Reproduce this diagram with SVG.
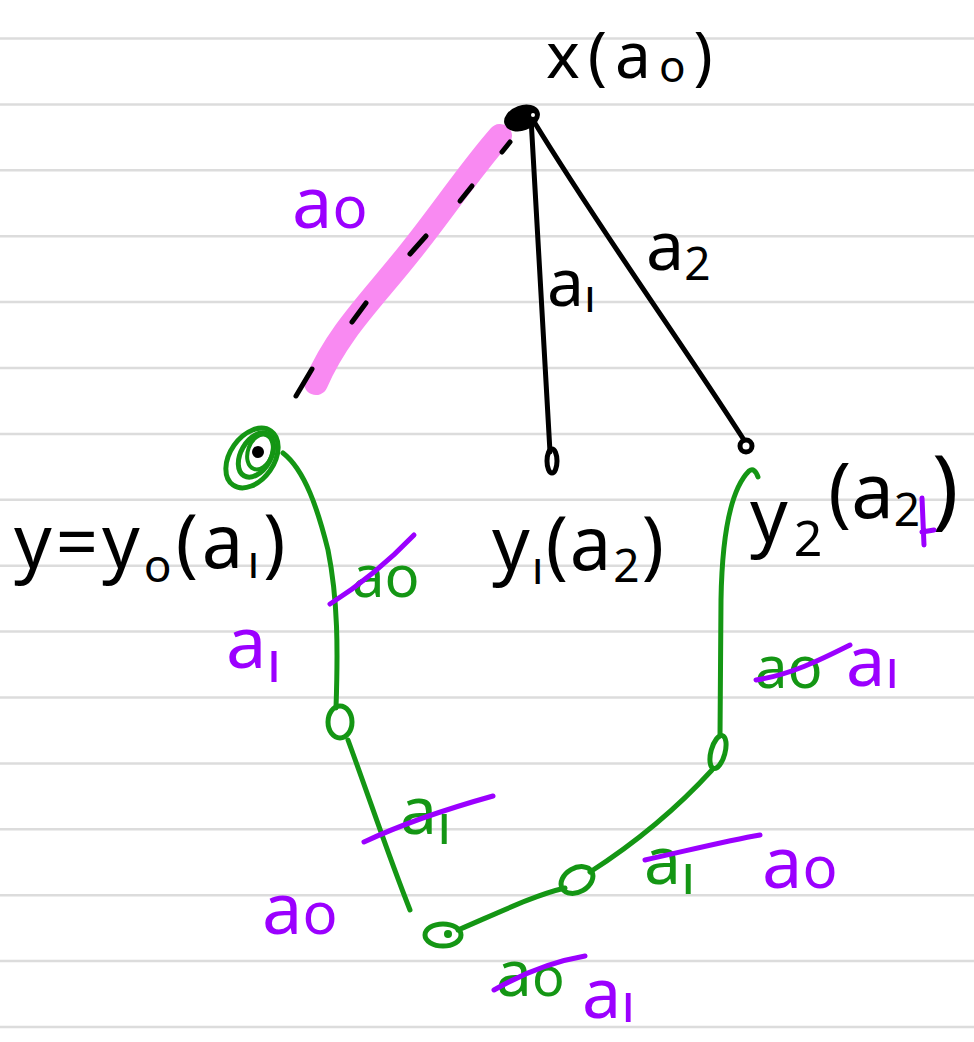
<svg xmlns="http://www.w3.org/2000/svg" width="974" height="1042" viewBox="0 0 974 1042">
<style>
.rule{stroke:#dcdcdc;stroke-width:2.5}
.t{font-family:"Noto Sans",sans-serif;fill:#000}
.p{fill:#9b00ff}
.g{fill:#149614}
.blk{fill:none;stroke:#000;stroke-width:5;stroke-linecap:round}
.grn{fill:none;stroke:#149614;stroke-width:5;stroke-linecap:round}
.strike{fill:none;stroke:#9b00ff;stroke-width:5;stroke-linecap:round}
</style>
<rect width="974" height="1042" fill="#fff"/>
<g id="rules">
<line class="rule" x1="0" y1="38.5" x2="974" y2="38.5"/>
<line class="rule" x1="0" y1="104.4" x2="974" y2="104.4"/>
<line class="rule" x1="0" y1="170.3" x2="974" y2="170.3"/>
<line class="rule" x1="0" y1="236.2" x2="974" y2="236.2"/>
<line class="rule" x1="0" y1="302.1" x2="974" y2="302.1"/>
<line class="rule" x1="0" y1="368" x2="974" y2="368"/>
<line class="rule" x1="0" y1="433.9" x2="974" y2="433.9"/>
<line class="rule" x1="0" y1="499.8" x2="974" y2="499.8"/>
<line class="rule" x1="0" y1="565.7" x2="974" y2="565.7"/>
<line class="rule" x1="0" y1="631.6" x2="974" y2="631.6"/>
<line class="rule" x1="0" y1="697.5" x2="974" y2="697.5"/>
<line class="rule" x1="0" y1="763.4" x2="974" y2="763.4"/>
<line class="rule" x1="0" y1="829.3" x2="974" y2="829.3"/>
<line class="rule" x1="0" y1="895.2" x2="974" y2="895.2"/>
<line class="rule" x1="0" y1="961.1" x2="974" y2="961.1"/>
<line class="rule" x1="0" y1="1027" x2="974" y2="1027"/>
</g>
<g id="connectors">
<path d="M500,136 C470,170 440,215 410,252 C372,300 338,332 316,383" fill="none" stroke="#f98af2" stroke-width="24" stroke-linecap="round"/>
<g class="blk">
<path d="M510,142 L502,152"/>
<path d="M472,186 L460,201"/>
<path d="M426,236 L410,254"/>
<path d="M366,303 L352,322"/>
<path d="M312,369 L296,396"/>
</g>
<path class="blk" d="M531,118 C538,240 544,350 550,452"/>
<path class="blk" d="M533,120 C600,230 680,340 744,440"/>
<path class="grn" d="M283,453 C305,470 318,510 328,550 C338,600 338,650 336,708"/>
<path class="grn" d="M348,740 C370,800 390,860 410,910"/>
<path class="grn" d="M458,930 C500,912 535,895 565,888"/>
<path class="grn" d="M590,872 C640,840 680,805 712,770"/>
<path class="grn" d="M720,736 L721,600 C722,540 730,490 749,471 C753,468 756,471 758,477"/>
</g>
<g id="node-x">
<ellipse cx="522" cy="118" rx="17" ry="11" transform="rotate(-20 522 118)" fill="#000" stroke="#000" stroke-width="3"/>
<circle cx="533" cy="115" r="2" fill="#fff"/>
<text class="t" x="546" y="78" font-size="64" letter-spacing="8">x(a<tspan font-size="44" dy="4">o</tspan><tspan dy="-4">)</tspan></text>
</g>
<g id="node-y0">
<ellipse cx="252" cy="458" rx="22" ry="33" transform="rotate(35 252 458)" fill="none" stroke="#149614" stroke-width="5"/>
<ellipse cx="256" cy="455" rx="15" ry="24" transform="rotate(30 256 455)" fill="none" stroke="#149614" stroke-width="5"/>
<ellipse cx="260" cy="452" rx="12" ry="18" transform="rotate(20 260 452)" fill="none" stroke="#149614" stroke-width="4"/>
<circle cx="258" cy="452" r="6" fill="#000"/>
<text class="t" x="14" y="568" font-size="74" letter-spacing="4">y=y<tspan font-size="46" dy="14">o</tspan><tspan dy="-14">(a</tspan><tspan font-size="46" dy="10">ı</tspan><tspan dy="-10">)</tspan></text>
</g>
<g id="node-y1">
<ellipse cx="552" cy="461" rx="5" ry="12" fill="none" stroke="#000" stroke-width="5"/>
<text class="t" x="492" y="570" font-size="74" letter-spacing="2">y<tspan font-size="46" dy="14">ı</tspan><tspan dy="-14">(a</tspan><tspan font-size="46" dy="12">2</tspan><tspan dy="-12">)</tspan></text>
</g>
<g id="node-y2">
<circle cx="746" cy="446" r="6" fill="none" stroke="#000" stroke-width="5"/>
<text class="t" x="750" y="542" font-size="74">y<tspan font-size="50" dx="6" dy="14">2</tspan><tspan dx="6" dy="-38" font-size="76">(a</tspan><tspan font-size="46" dy="8">2</tspan><tspan dx="12" dy="-8" font-size="88">)</tspan></text>
<path class="strike" d="M922,498 L924,545 M922,532 L934,530"/>
</g>
<g id="path-nodes">
<ellipse cx="340" cy="722" rx="12" ry="16" fill="none" stroke="#149614" stroke-width="5"/>
<ellipse cx="443" cy="935" rx="18" ry="11" fill="none" stroke="#149614" stroke-width="5"/>
<circle cx="448" cy="934" r="4" fill="#149614"/>
<ellipse cx="577" cy="880" rx="17" ry="12" transform="rotate(-30 577 880)" fill="none" stroke="#149614" stroke-width="5"/>
<ellipse cx="718" cy="752" rx="7" ry="17" transform="rotate(15 718 752)" fill="none" stroke="#149614" stroke-width="5"/>
</g>
<g id="labels">
<text class="t p" x="292" y="228" font-size="72">a<tspan font-size="58">o</tspan></text>
<text class="t" x="547" y="306" font-size="66">a<tspan font-size="46" dy="6">ı</tspan></text>
<text class="t" x="646" y="270" font-size="68">a<tspan font-size="46" dy="10">2</tspan></text>
<text class="t g" x="352" y="597" font-size="58">ao</text>
<path class="strike" d="M330,604 C360,585 390,560 414,535"/>
<text class="t p" x="226" y="668" font-size="72">a<tspan font-size="58" dy="14">ı</tspan></text>
<text class="t g" x="400" y="834" font-size="66">a<tspan font-size="56" dy="10">ı</tspan></text>
<path class="strike" d="M364,842 C400,825 450,808 493,796"/>
<text class="t p" x="262" y="934" font-size="72">a<tspan font-size="58">o</tspan></text>
<text class="t g" x="644" y="884" font-size="66">a<tspan font-size="56" dy="10">ı</tspan></text>
<path class="strike" d="M645,860 C690,850 730,840 760,835"/>
<text class="t p" x="762" y="888" font-size="72">a<tspan font-size="58">o</tspan></text>
<text class="t g" x="496" y="996" font-size="64">a<tspan font-size="54">o</tspan></text>
<path class="strike" d="M494,990 C520,975 550,962 585,956"/>
<text class="t p" x="582" y="1018" font-size="70">a<tspan font-size="54" dy="4">ı</tspan></text>
<text class="t g" x="755" y="688" font-size="58">ao</text>
<path class="strike" d="M756,680 C790,675 820,660 850,645"/>
<text class="t p" x="846" y="686" font-size="70">a<tspan font-size="54" dy="2">ı</tspan></text>
</g>
</svg>
